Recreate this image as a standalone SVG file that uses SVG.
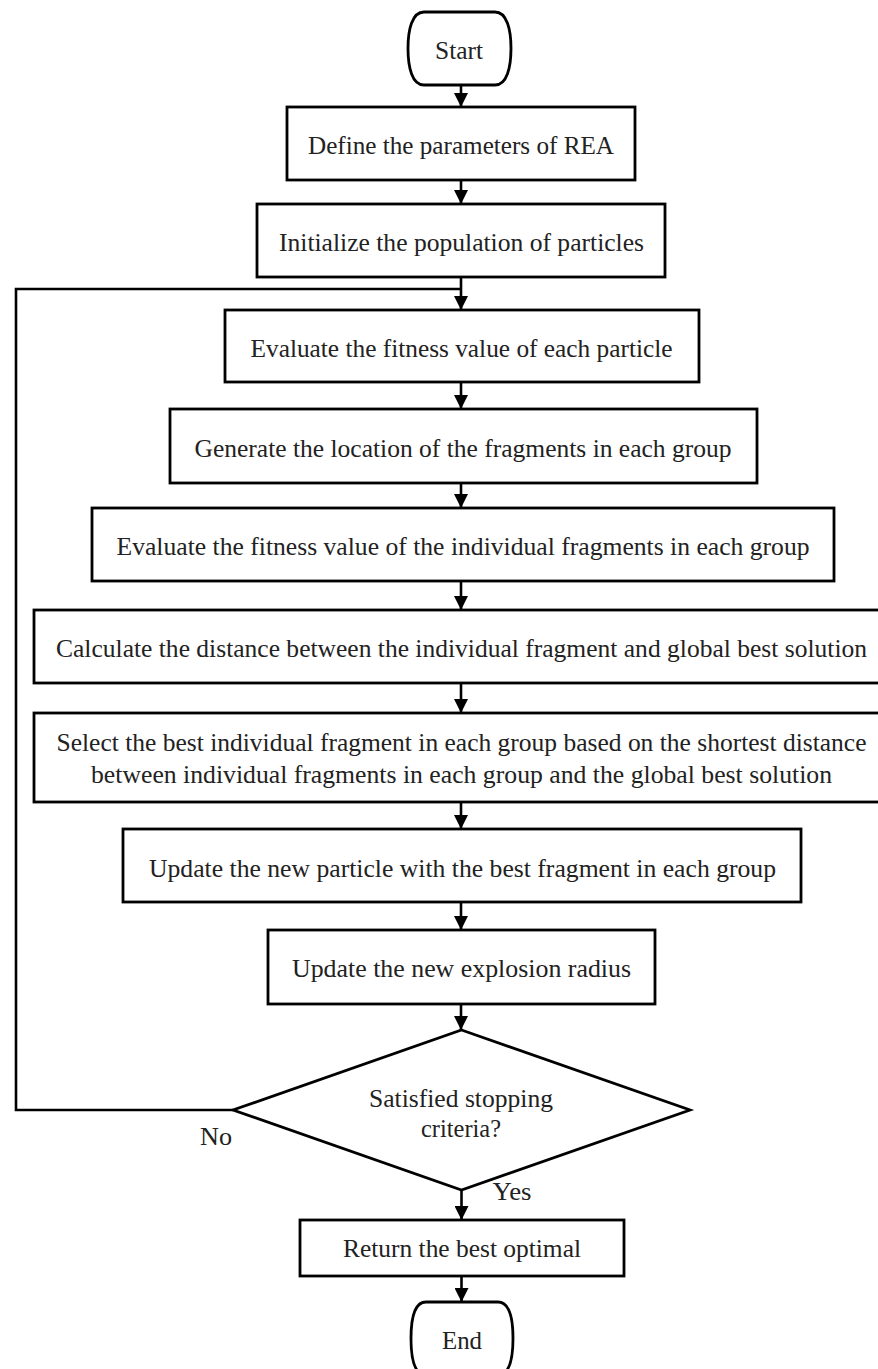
<svg xmlns="http://www.w3.org/2000/svg" width="878" height="1369" viewBox="0 0 878 1369">
<defs>
<marker id="ah" markerUnits="userSpaceOnUse" markerWidth="14" markerHeight="14" refX="14" refY="7" orient="auto">
<path d="M0,0 L14,7 L0,14 Z" fill="#000"/>
</marker>
</defs>
<style>
.box{fill:#fff;stroke:#000;stroke-width:2.8}
.t{font-family:"Liberation Serif","Times New Roman",serif;font-size:26px;fill:#222;text-anchor:middle}
.c{fill:none;stroke:#000;stroke-width:2.6}
</style>
<rect width="878" height="1369" fill="#fff"/>
<g id="connectors">
<line class="c" x1="461" y1="85" x2="461" y2="107" marker-end="url(#ah)"/>
<line class="c" x1="461" y1="180" x2="461" y2="204" marker-end="url(#ah)"/>
<line class="c" x1="461" y1="277" x2="461" y2="310" marker-end="url(#ah)"/>
<line class="c" x1="461" y1="382" x2="461" y2="409" marker-end="url(#ah)"/>
<line class="c" x1="461" y1="483" x2="461" y2="508" marker-end="url(#ah)"/>
<line class="c" x1="461" y1="581" x2="461" y2="610" marker-end="url(#ah)"/>
<line class="c" x1="461" y1="683" x2="461" y2="713" marker-end="url(#ah)"/>
<line class="c" x1="461" y1="802" x2="461" y2="829" marker-end="url(#ah)"/>
<line class="c" x1="461" y1="902" x2="461" y2="930" marker-end="url(#ah)"/>
<line class="c" x1="461" y1="1004" x2="461" y2="1030" marker-end="url(#ah)"/>
<line class="c" x1="461.5" y1="1190" x2="461.5" y2="1220" marker-end="url(#ah)"/>
<line class="c" x1="461.5" y1="1276" x2="461.5" y2="1302" marker-end="url(#ah)"/>
<polyline class="c" points="233,1110 16,1110 16,289 461,289"/>
<text class="t" x="216" y="1145" textLength="32" lengthAdjust="spacingAndGlyphs">No</text>
<text class="t" x="512" y="1200" textLength="39" lengthAdjust="spacingAndGlyphs">Yes</text>
</g>
<g id="start">
<path class="box" d="M424 12 H495 C507 12 511 30 511 48.5 C511 67 507 85 495 85 H424 C412 85 408 67 408 48.5 C408 30 412 12 424 12 Z"/>
<text class="t" x="459" y="59" textLength="48" lengthAdjust="spacingAndGlyphs">Start</text>
</g>
<g id="define">
<rect class="box" x="287" y="107" width="348" height="73"/>
<text class="t" x="461" y="154" textLength="306" lengthAdjust="spacingAndGlyphs">Define the parameters of REA</text>
</g>
<g id="init">
<rect class="box" x="257" y="204" width="408" height="73"/>
<text class="t" x="461.5" y="251" textLength="365" lengthAdjust="spacingAndGlyphs">Initialize the population of particles</text>
</g>
<g id="evalfit">
<rect class="box" x="225" y="310" width="474" height="72"/>
<text class="t" x="461.5" y="357" textLength="422" lengthAdjust="spacingAndGlyphs">Evaluate the fitness value of each particle</text>
</g>
<g id="generate">
<rect class="box" x="170" y="409" width="587" height="74"/>
<text class="t" x="463" y="457" textLength="537" lengthAdjust="spacingAndGlyphs">Generate the location of the fragments in each group</text>
</g>
<g id="evalfrag">
<rect class="box" x="92" y="508" width="742" height="73"/>
<text class="t" x="463" y="555" textLength="693" lengthAdjust="spacingAndGlyphs">Evaluate the fitness value of the individual fragments in each group</text>
</g>
<g id="calculate">
<rect class="box" x="34" y="610" width="860" height="73"/>
<text class="t" x="461.5" y="657" textLength="811" lengthAdjust="spacingAndGlyphs">Calculate the distance between the individual fragment and global best solution</text>
</g>
<g id="select">
<rect class="box" x="34" y="713" width="860" height="89"/>
<text class="t" x="461.5" y="751" textLength="810" lengthAdjust="spacingAndGlyphs">Select the best individual fragment in each group based on the shortest distance</text>
<text class="t" x="461.5" y="783" textLength="741" lengthAdjust="spacingAndGlyphs">between individual fragments in each group and the global best solution</text>
</g>
<g id="updatep">
<rect class="box" x="123" y="829" width="678" height="73"/>
<text class="t" x="462.5" y="877" textLength="627" lengthAdjust="spacingAndGlyphs">Update the new particle with the best fragment in each group</text>
</g>
<g id="updater">
<rect class="box" x="268" y="930" width="387" height="74"/>
<text class="t" x="461.5" y="977" textLength="339" lengthAdjust="spacingAndGlyphs">Update the new explosion radius</text>
</g>
<g id="decision">
<polygon class="box" points="461.5,1030 690,1110 461.5,1190 233,1110"/>
<text class="t" x="461" y="1107" textLength="184" lengthAdjust="spacingAndGlyphs">Satisfied stopping</text>
<text class="t" x="461" y="1137" textLength="80" lengthAdjust="spacingAndGlyphs">criteria?</text>
</g>
<g id="return">
<rect class="box" x="300" y="1220" width="324" height="56"/>
<text class="t" x="462" y="1257" textLength="238" lengthAdjust="spacingAndGlyphs">Return the best optimal</text>
</g>
<g id="end">
<path class="box" d="M426 1302 H498 C510 1302 513 1320 513 1338.5 C513 1357 510 1375 498 1375 H426 C414 1375 411 1357 411 1338.5 C411 1320 414 1302 426 1302 Z"/>
<text class="t" x="462" y="1349" textLength="40" lengthAdjust="spacingAndGlyphs">End</text>
</g>
</svg>
